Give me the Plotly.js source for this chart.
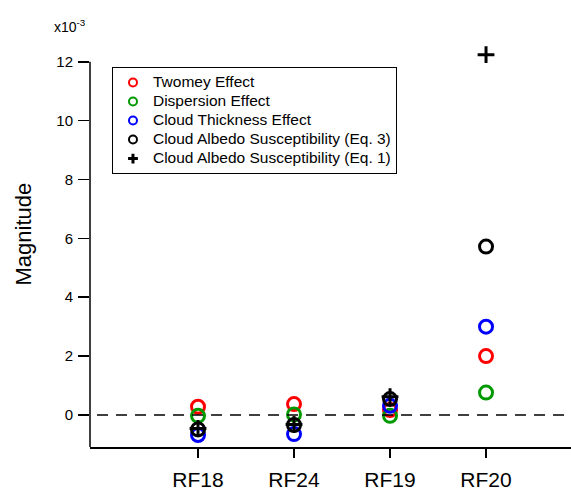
<!DOCTYPE html>
<html>
<head>
<meta charset="utf-8">
<script src="https://cdn.plot.ly/plotly-3.0.1.min.js"></script>
<style>html,body{margin:0;padding:0;background:#fff;}#chart{width:571px;height:491px;}</style>
</head>
<body>
<div id="chart"></div>
<script>
// Values in units of x10^-3
var categories = ['RF18', 'RF24', 'RF19', 'RF20'];
var twomey = [0.28, 0.37, 0.17, 2.0];
var dispersion = [-0.03, 0.02, -0.03, 0.76];
var thickness = [-0.68, -0.65, 0.31, 3.0];
var albedoEq3 = [-0.49, -0.34, 0.54, 5.72];
var albedoEq1 = [-0.46, -0.32, 0.62, 12.24];
var seriesNames = ['Twomey Effect', 'Dispersion Effect', 'Cloud Thickness Effect',
  'Cloud Albedo Susceptibility (Eq. 3)', 'Cloud Albedo Susceptibility (Eq. 1)'];
var yTicks = [0, 2, 4, 6, 8, 10, 12];

var FONT = 'Liberation Sans, Arial, Helvetica, sans-serif';
var colors = ['#ff0000', 'rgb(0,153,0)', '#0000ff', '#000000', '#000000'];
var allSeries = [twomey, dispersion, thickness, albedoEq3, albedoEq1];

var Y_MIN = -1.088, Y_MAX = 12.4, Y_AXIS_TOP = 12.0;

var traces = [];
allSeries.forEach(function (vals, i) {
  var isPlus = (i === 4);
  traces.push({
    x: categories, y: vals, type: 'scatter', mode: 'markers',
    showlegend: false, cliponaxis: false, hoverinfo: 'skip',
    marker: {
      symbol: isPlus ? 'cross-thin-open' : 'circle-open',
      size: isPlus ? 12 : 13,
      color: colors[i],
      line: {color: colors[i], width: 3}
    }
  });
});
// legend entries (smaller symbols as in reference)
allSeries.forEach(function (vals, i) {
  var isPlus = (i === 4);
  traces.push({
    x: [null], y: [null], type: 'scatter', mode: 'markers',
    name: '<span style="font-size:15.5px">' + seriesNames[i] + '</span>',
    showlegend: true,
    marker: {
      symbol: isPlus ? 'cross-thin-open' : 'circle-open',
      size: isPlus ? 7 : 8,
      color: colors[i],
      line: {color: colors[i], width: isPlus ? 3 : 2}
    }
  });
});

var layout = {
  width: 571, height: 491,
  margin: {l: 90, r: 0, t: 50, b: 44},
  paper_bgcolor: '#fff', plot_bgcolor: '#fff',
  font: {family: FONT, color: '#000'},
  showlegend: true,
  legend: {
    x: 0.0457, y: 0.957, xanchor: 'left', yanchor: 'top',
    bgcolor: '#fff', bordercolor: '#000', borderwidth: 1,
    font: {family: FONT, size: 11.5, color: '#000'},
    tracegroupgap: 0, itemsizing: 'trace'
  },
  xaxis: {
    type: 'category', range: [-1.125, 3.885],
    showline: true, linecolor: '#000', linewidth: 1.5,
    ticks: 'outside', ticklen: 9, tickwidth: 1.5, tickcolor: '#000',
    ticklabelstandoff: 4,
    showgrid: false, zeroline: false,
    tickfont: {family: FONT, size: 21, color: '#000'}
  },
  yaxis: {
    range: [Y_MIN, Y_MAX],
    tickvals: yTicks, ticktext: yTicks.map(String),
    showline: false,
    ticks: 'outside', ticklen: 11, tickwidth: 1.5, tickcolor: '#000',
    ticklabelstandoff: 2,
    showgrid: false, zeroline: false,
    tickfont: {family: FONT, size: 15, color: '#000'}
  },
  shapes: [
    {
      type: 'line', xref: 'paper', yref: 'y', x0: 0, x1: 0, y0: Y_MIN, y1: Y_AXIS_TOP,
      line: {color: '#000', width: 1.5}
    },
    {
      type: 'line', xref: 'paper', yref: 'y', x0: 0.0146, x1: 1, y0: 0, y1: 0,
      line: {color: '#000', width: 1.5, dash: '11px,8px'}
    }
  ],
  annotations: [
    {
      text: 'Magnitude', textangle: -90, xref: 'paper', yref: 'paper',
      x: (23 - 90) / 481, y: (447 - 234.5) / 397, xanchor: 'center', yanchor: 'middle',
      showarrow: false, font: {family: FONT, size: 22, color: '#000'}
    },
    {
      text: 'x10<sup>-3</sup>', xref: 'paper', yref: 'paper',
      x: (88 - 90) / 481, y: (447 - 26) / 397, xanchor: 'right', yanchor: 'middle',
      showarrow: false, font: {family: FONT, size: 14, color: '#000'}
    }
  ]
};

Plotly.newPlot('chart', traces, layout, {displayModeBar: false, staticPlot: true});
</script>
</body>
</html>
